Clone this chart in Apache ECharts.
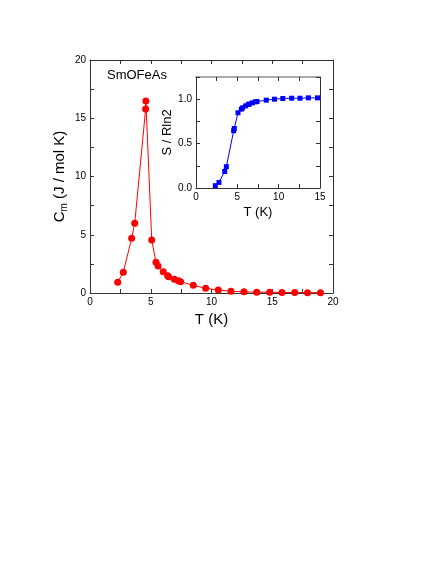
<!DOCTYPE html>
<html>
<head>
<meta charset="UTF-8">
<title>SmOFeAs</title>
<script src="https://cdn.jsdelivr.net/npm/echarts@6/dist/echarts.min.js"></script>
<style>
  html, body { margin: 0; padding: 0; background: #fff; }
  #main { width: 436px; height: 564px; }
</style>
</head>
<body>
<div id="main"></div>
<script type="text/javascript">
// main curve: magnetic heat capacity
var mainT = [2.28, 2.74, 3.43, 3.68, 4.58, 4.6, 5.08, 5.43, 5.6, 6.03, 6.39, 6.47, 6.94, 7.27, 7.46, 8.5, 9.52, 10.56, 11.6, 12.67, 13.72, 14.79, 15.8, 16.85, 17.9, 18.97];
var mainC = [0.92, 1.78, 4.69, 5.98, 15.8, 16.48, 4.55, 2.63, 2.32, 1.83, 1.49, 1.4, 1.17, 1.06, 0.97, 0.66, 0.4, 0.26, 0.15, 0.1, 0.07, 0.06, 0.05, 0.04, 0.03, 0.02];
// inset: entropy
var insetT = [2.34, 2.78, 3.47, 3.67, 4.56, 4.63, 5.08, 5.48, 5.64, 6.0, 6.33, 6.45, 6.81, 7.17, 7.38, 8.5, 9.5, 10.5, 11.57, 12.58, 13.6, 14.7];
var insetS = [0.026, 0.063, 0.186, 0.24, 0.645, 0.67, 0.847, 0.888, 0.903, 0.925, 0.94, 0.946, 0.958, 0.97, 0.974, 0.989, 1.0, 1.008, 1.011, 1.011, 1.015, 1.015];

function pairs(xs, ys) {
  var out = [];
  for (var i = 0; i < xs.length; i++) out.push([xs[i], ys[i]]);
  return out;
}

var font = 'Liberation Sans, Arial, sans-serif';
var lineC = '#333';

function axis(gi, pos, min, max, interval, opts) {
  var a = {
    gridIndex: gi, position: pos, min: min, max: max, interval: interval,
    axisLine: { show: true, onZero: false, lineStyle: { color: lineC, width: 1 } },
    axisTick: { show: true, inside: true, length: 4, lineStyle: { color: lineC } },
    minorTick: { show: true, splitNumber: 2, length: 4, lineStyle: { color: lineC } },
    splitLine: { show: false },
    axisLabel: { show: true, color: '#000', fontSize: 10, fontFamily: font, margin: 4 }
  };
  for (var k in opts) a[k] = opts[k];
  return a;
}

var myChart = echarts.init(document.getElementById('main'));

var option = {
  animation: false,
  backgroundColor: '#fff',
  grid: [
    { left: 90, right: 103, top: 60, bottom: 271 },
    { left: 196, right: 116, top: 77, bottom: 376 }
  ],
  xAxis: [
    axis(0, 'bottom', 0, 20, 5, {
      name: 'T (K)', nameLocation: 'middle', nameGap: 19,
      nameTextStyle: { color: '#000', fontSize: 15, fontFamily: font }
    }),
    axis(0, 'top', 0, 20, 5, { axisLabel: { show: false } }),
    axis(1, 'bottom', 0, 15, 5, {
      name: 'T (K)', nameLocation: 'middle', nameGap: 18,
      nameTextStyle: { color: '#000', fontSize: 13, fontFamily: font }
    }),
    axis(1, 'top', 0, 15, 5, { axisLabel: { show: false },
      axisLine: { show: true, onZero: false, lineStyle: { color: '#aaa', width: 2 } } })
  ],
  yAxis: [
    axis(0, 'left', 0, 20, 5, {
      name: 'C{sub|m} (J / mol K)', nameLocation: 'middle', nameGap: 21,
      nameMoveOverlap: false,
      nameTextStyle: { color: '#000', fontSize: 15, fontFamily: font,
        rich: { sub: { fontSize: 10, fontFamily: font, color: '#000', verticalAlign: 'bottom', padding: [8, 0, 0, 0] } } }
    }),
    axis(0, 'right', 0, 20, 5, { axisLabel: { show: false } }),
    axis(1, 'left', 0, 1.25, 0.5, {
      name: 'S / Rln2', nameLocation: 'middle', nameGap: 21,
      nameTextStyle: { color: '#000', fontSize: 13, fontFamily: font },
      axisLabel: { show: true, color: '#000', fontSize: 10, fontFamily: font, margin: 4,
        formatter: function (v) { return v > 1.2 ? '' : v.toFixed(1); } }
    }),
    axis(1, 'right', 0, 1.25, 0.5, { axisLabel: { show: false } })
  ],
  graphic: [
    { type: 'text', left: 107, top: 69,
      style: { text: 'SmOFeAs', fill: '#000', font: '13px ' + font } }
  ],
  series: [
    {
      type: 'line', xAxisIndex: 0, yAxisIndex: 0,
      data: pairs(mainT, mainC),
      symbol: 'circle', symbolSize: 7,
      itemStyle: { color: '#ff0000' },
      lineStyle: { color: '#ff0000', width: 1 }
    },
    {
      type: 'line', xAxisIndex: 2, yAxisIndex: 2,
      data: pairs(insetT, insetS),
      symbol: 'rect', symbolSize: 5,
      itemStyle: { color: '#0000ff' },
      lineStyle: { color: '#0000ff', width: 1 }
    }
  ]
};

myChart.setOption(option);
</script>
</body>
</html>
